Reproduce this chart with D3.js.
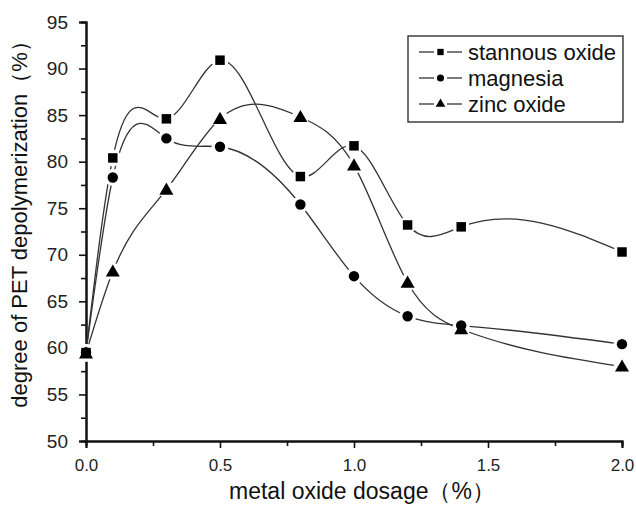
<!DOCTYPE html>
<html>
<head>
<meta charset="utf-8">
<script src="https://cdn.jsdelivr.net/npm/d3@7"></script>
<style>
  body { margin: 0; background: #fff; }
  svg { font-family: "Liberation Sans", Arial, sans-serif; }
</style>
</head>
<body>
<svg id="chart"></svg>
<script>
// data
const dosage = [0, 0.1, 0.3, 0.5, 0.8, 1.0, 1.2, 1.4, 2.0];
const stannousOxide = [59.5, 80.4, 84.6, 90.9, 78.4, 81.7, 73.2, 73.0, 70.3];
const magnesia = [59.5, 78.3, 82.5, 81.6, 75.4, 67.7, 63.4, 62.4, 60.4];
const zincOxide = [59.4, 68.2, 77.0, 84.6, 84.8, 79.6, 67.0, 62.0, 58.0];
const seriesNames = ["stannous oxide", "magnesia", "zinc oxide"];
const xTicks = [0, 0.5, 1.0, 1.5, 2.0];
const yTicks = [50, 55, 60, 65, 70, 75, 80, 85, 90, 95];

const width = 636;
const height = 505;

const svg = d3.select("#chart")
  .attr("width", width)
  .attr("height", height);

// scales
const x = d3.scaleLinear().domain([0, 2]).range([86, 622]);
const y = d3.scaleLinear().domain([50, 95]).range([441, 22]);

const symbols = [d3.symbolSquare, d3.symbolCircle, d3.symbolTriangle];

// natural cubic spline of y as a function of x (like Origin's spline connect)
function splineX(context) {
  return {
    areaStart() {},
    areaEnd() {},
    lineStart() { this._x = []; this._y = []; },
    point(px, py) { this._x.push(+px); this._y.push(+py); },
    lineEnd() {
      const xs = this._x, ys = this._y, n = xs.length;
      if (!n) return;
      context.moveTo(xs[0], ys[0]);
      if (n < 3) { if (n === 2) context.lineTo(xs[1], ys[1]); return; }
      const h = [];
      for (let i = 0; i < n - 1; i++) h.push(xs[i + 1] - xs[i]);
      // tridiagonal solve for second derivatives, M0 = Mn = 0
      const a = [], b = [], c = [], r = [];
      for (let i = 1; i < n - 1; i++) {
        a.push(h[i - 1]);
        b.push(2 * (h[i - 1] + h[i]));
        c.push(h[i]);
        r.push(6 * ((ys[i + 1] - ys[i]) / h[i] - (ys[i] - ys[i - 1]) / h[i - 1]));
      }
      const m = r.length;
      for (let i = 1; i < m; i++) {
        const w = a[i] / b[i - 1];
        b[i] -= w * c[i - 1];
        r[i] -= w * r[i - 1];
      }
      const inner = new Array(m);
      inner[m - 1] = r[m - 1] / b[m - 1];
      for (let i = m - 2; i >= 0; i--) inner[i] = (r[i] - c[i] * inner[i + 1]) / b[i];
      const M = [0, ...inner, 0];
      for (let i = 0; i < n - 1; i++) {
        const s = (ys[i + 1] - ys[i]) / h[i];
        const d0 = s - h[i] * (2 * M[i] + M[i + 1]) / 6;
        const d1 = s + h[i] * (M[i] + 2 * M[i + 1]) / 6;
        context.bezierCurveTo(
          xs[i] + h[i] / 3, ys[i] + d0 * h[i] / 3,
          xs[i + 1] - h[i] / 3, ys[i + 1] - d1 * h[i] / 3,
          xs[i + 1], ys[i + 1]);
      }
    }
  };
}

// axes
const xAxis = d3.axisBottom(x).tickValues(xTicks).tickFormat(d3.format(".1f")).tickSize(7).tickPadding(11);
const xMinor = d3.axisBottom(x).tickValues([0.25, 0.75, 1.25, 1.75]).tickFormat("").tickSize(5);
const yAxis = d3.axisLeft(y).tickValues(yTicks).tickSize(7).tickPadding(11);
const yMinor = d3.axisLeft(y).tickValues(d3.range(52.5, 95, 5)).tickFormat("").tickSize(5);

function styleAxis(g, fs) {
  g.select(".domain").attr("stroke", "#111").attr("stroke-width", 2);
  g.selectAll(".tick line").attr("stroke", "#111").attr("stroke-width", 1.6);
  g.selectAll(".tick text").attr("fill", "#222").style("font-size", fs + "px")
    .style("font-family", "'Liberation Sans', Arial, sans-serif");
}

svg.append("g").attr("transform", `translate(0,${y(50)})`).call(xMinor).call(styleAxis, 17);
svg.append("g").attr("transform", `translate(0,${y(50)})`).call(xAxis).call(styleAxis, 17);
svg.append("g").attr("transform", `translate(${x(0)},0)`).call(yMinor).call(styleAxis, 19);
svg.append("g").attr("transform", `translate(${x(0)},0)`).call(yAxis).call(styleAxis, 19);

// lines + markers
const allSeries = [stannousOxide, magnesia, zincOxide];
const line = d3.line()
  .x((d, i) => x(dosage[i]))
  .y((d) => y(d))
  .curve(splineX);

allSeries.forEach((vals) => {
  svg.append("path")
    .attr("d", line(vals))
    .attr("fill", "none")
    .attr("stroke", "#333")
    .attr("stroke-width", 1.3);
});

// white halo gives the gap round each marker
allSeries.forEach((vals) => {
  svg.append("g").selectAll("circle")
    .data(vals)
    .enter()
    .append("circle")
    .attr("cx", (d, i) => x(dosage[i]))
    .attr("cy", (d) => y(d))
    .attr("r", 8.5)
    .attr("fill", "#fff");
});

allSeries.forEach((vals, k) => {
  svg.append("g").selectAll("path")
    .data(vals)
    .enter()
    .append("path")
    .attr("transform", (d, i) => `translate(${x(dosage[i])},${y(d) + (k === 2 ? 1 : 0)})`)
    .attr("d", d3.symbol().type(symbols[k]).size(k === 0 ? 90 : 85))
    .attr("fill", "#000");
});

// legend
const legend = svg.append("g");
legend.append("rect")
  .attr("x", 408).attr("y", 36)
  .attr("width", 215).attr("height", 86)
  .attr("fill", "#fff")
  .attr("stroke", "#222")
  .attr("stroke-width", 1.3);

const entry = legend.selectAll(".legend-entry")
  .data(seriesNames)
  .enter()
  .append("g")
  .attr("transform", (d, i) => `translate(0,${52 + i * 26})`);

entry.append("line").attr("x1", 419).attr("x2", 434).attr("y1", 0).attr("y2", 0)
  .attr("stroke", "#333").attr("stroke-width", 1.3);
entry.append("line").attr("x1", 447).attr("x2", 462).attr("y1", 0).attr("y2", 0)
  .attr("stroke", "#333").attr("stroke-width", 1.3);
entry.append("path")
  .attr("transform", "translate(440.5,0)")
  .attr("d", (d, i) => d3.symbol().type(symbols[i]).size(40)())
  .attr("fill", "#000");
entry.append("text")
  .attr("x", 468)
  .attr("y", 0)
  .attr("dy", "0.35em")
  .attr("fill", "#111")
  .style("font-size", "22px")
  .text((d) => d);

// axis titles
svg.append("text")
  .attr("x", 362)
  .attr("y", 499)
  .attr("text-anchor", "middle")
  .attr("fill", "#111")
  .style("font-size", "23px")
  .text("metal oxide dosage（%）");

svg.append("text")
  .attr("transform", "translate(27,219) rotate(-90)")
  .attr("text-anchor", "middle")
  .attr("fill", "#111")
  .style("font-size", "22px")
  .text("degree of PET depolymerization（%）");
</script>
</body>
</html>
